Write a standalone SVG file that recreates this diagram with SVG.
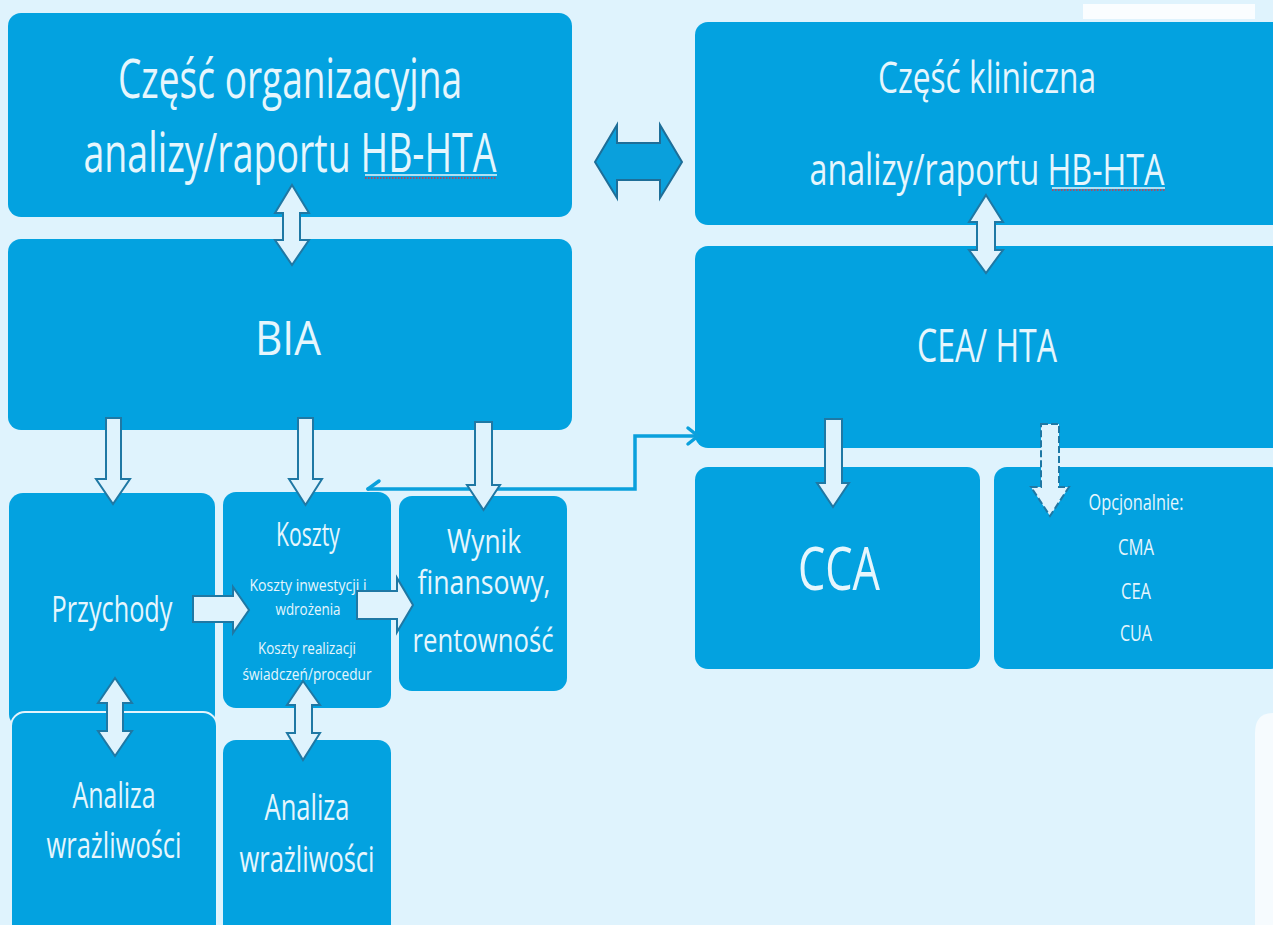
<svg xmlns="http://www.w3.org/2000/svg" width="1273" height="925" viewBox="0 0 1273 925">
<defs>
<style>
.node{fill:#03A2E0}
.t{fill:#E6F6FD;font-family:"Open Sans","Noto Sans",sans-serif;text-anchor:middle}
.ba{fill:#DFF3FD;stroke:#1F78A4;stroke-width:2;stroke-linejoin:miter}
.conn{fill:none;stroke:#0AA0DC;stroke-width:3.5;stroke-linecap:round;stroke-linejoin:miter}
.sq{fill:none;stroke:#D9333F;stroke-width:1.5;stroke-dasharray:1.5 1.5}
.ul{stroke:#E6F6FD;stroke-width:1.5}
</style>
</defs>
<rect x="0" y="0" width="1273" height="925" fill="#DFF3FD"/>
<rect x="1083" y="4" width="172" height="15" fill="#FAFDFF"/>
<path d="M1273 713 L1273 925 L1255 925 L1255 733 Q1255 713 1273 713 Z" fill="#F6FBFE"/>

<g id="node-organizacyjna">
<rect class="node" x="8" y="13" width="564" height="204" rx="13"/>
<text class="t" x="290" y="98" font-size="54" textLength="344" lengthAdjust="spacingAndGlyphs">Część organizacyjna</text>
<text class="t" x="290" y="172" font-size="54" textLength="413" lengthAdjust="spacingAndGlyphs">analizy/raportu HB-HTA</text>
<line class="ul" x1="365" y1="175" x2="497" y2="175"/>
<line class="sq" x1="365" y1="178" x2="497" y2="178"/>
</g>

<g id="node-kliniczna">
<rect class="node" x="695" y="22" width="590" height="203" rx="13"/>
<text class="t" x="987" y="93" font-size="44" textLength="218" lengthAdjust="spacingAndGlyphs">Część kliniczna</text>
<text class="t" x="987" y="185" font-size="44" textLength="355" lengthAdjust="spacingAndGlyphs">analizy/raportu HB-HTA</text>
<line class="ul" x1="1052" y1="188" x2="1165" y2="188"/>
<line class="sq" x1="1052" y1="190" x2="1165" y2="190"/>
</g>

<g id="node-bia">
<rect class="node" x="8" y="239" width="564" height="191" rx="13"/>
<text class="t" x="288" y="355" font-size="48" textLength="66" lengthAdjust="spacingAndGlyphs">BIA</text>
</g>

<g id="node-cea-hta">
<rect class="node" x="695" y="246" width="590" height="202" rx="13"/>
<text class="t" x="987" y="362" font-size="46" textLength="140" lengthAdjust="spacingAndGlyphs">CEA/ HTA</text>
</g>

<g id="node-przychody">
<rect class="node" x="9" y="493" width="206" height="235" rx="14"/>
<text class="t" x="112" y="622" font-size="36" textLength="121" lengthAdjust="spacingAndGlyphs">Przychody</text>
</g>

<g id="node-koszty">
<rect class="node" x="223" y="492" width="168" height="216" rx="13"/>
<text class="t" x="308" y="546" font-size="32" textLength="64" lengthAdjust="spacingAndGlyphs">Koszty</text>
<text class="t" x="308" y="591" font-size="17" textLength="117" lengthAdjust="spacingAndGlyphs">Koszty inwestycji  i</text>
<text class="t" x="308" y="615" font-size="17" textLength="65" lengthAdjust="spacingAndGlyphs">wdrożenia</text>
<text class="t" x="307" y="654" font-size="17" textLength="98" lengthAdjust="spacingAndGlyphs">Koszty realizacji</text>
<text class="t" x="307" y="680" font-size="17" textLength="129" lengthAdjust="spacingAndGlyphs">świadczeń/procedur</text>
</g>

<g id="node-wynik">
<rect class="node" x="399" y="496" width="168" height="195" rx="13"/>
<text class="t" x="484" y="553" font-size="33" textLength="74" lengthAdjust="spacingAndGlyphs">Wynik</text>
<text class="t" x="484" y="594" font-size="33" textLength="133" lengthAdjust="spacingAndGlyphs">finansowy,</text>
<text class="t" x="483" y="652" font-size="33" textLength="141" lengthAdjust="spacingAndGlyphs">rentowność</text>
</g>

<g id="node-cca">
<rect class="node" x="695" y="467" width="285" height="202" rx="13"/>
<text class="t" x="839" y="590" font-size="60" textLength="82" lengthAdjust="spacingAndGlyphs">CCA</text>
</g>

<g id="node-opcjonalnie">
<rect class="node" x="994" y="467" width="290" height="202" rx="13"/>
<text class="t" x="1136" y="510" font-size="21" textLength="95" lengthAdjust="spacingAndGlyphs">Opcjonalnie:</text>
<text class="t" x="1136" y="555" font-size="21" textLength="36" lengthAdjust="spacingAndGlyphs">CMA</text>
<text class="t" x="1136" y="599" font-size="21" textLength="30" lengthAdjust="spacingAndGlyphs">CEA</text>
<text class="t" x="1136" y="641" font-size="21" textLength="32" lengthAdjust="spacingAndGlyphs">CUA</text>
</g>

<g id="node-analiza-1">
<rect class="node" x="11" y="712" width="206" height="230" rx="14" stroke="#E3F4FC" stroke-width="2"/>
<text class="t" x="114" y="808" font-size="36" textLength="83" lengthAdjust="spacingAndGlyphs">Analiza</text>
<text class="t" x="114" y="858" font-size="36" textLength="135" lengthAdjust="spacingAndGlyphs">wrażliwości</text>
</g>

<g id="node-analiza-2">
<rect class="node" x="223" y="740" width="168" height="200" rx="13"/>
<text class="t" x="307" y="820" font-size="36" textLength="85" lengthAdjust="spacingAndGlyphs">Analiza</text>
<text class="t" x="307" y="872" font-size="36" textLength="135" lengthAdjust="spacingAndGlyphs">wrażliwości</text>
</g>

<g id="connectors">
<path class="conn" d="M368 489 H635 V436 H697"/>
<path class="conn" d="M368 489 L379 481"/>
<path class="conn" d="M688 428 L698 436 L688 444"/>
<polygon points="595,162 617,125 617,143 660,143 660,125 682,162 660,198 660,180 617,180 617,198" fill="#0AA0DC" stroke="#1E6E98" stroke-width="2"/>
<polygon class="ba" points="292,185 309,213 300,213 300,240 309,240 292,265 275,240 283,240 283,213 275,213"/>
<polygon class="ba" points="986,195 1003,222 995,222 995,250 1003,250 986,273 969,250 977,250 977,222 969,222"/>
<polygon class="ba" points="106,418 121,418 121,479 130,479 113,504 96,479 106,479"/>
<polygon class="ba" points="298,418 313,418 313,479 322,479 305.5,505 289,479 298,479"/>
<polygon class="ba" points="475,422 492,422 492,485 500,485 483.5,510 467,485 475,485"/>
<polygon class="ba" points="825,419 842,419 842,483 849,483 833,507 817,483 825,483"/>
<polygon class="ba" points="1041,424 1059,424 1059,487 1069,487 1050,516 1031,487 1041,487" stroke="#1A6A92" stroke-width="3" stroke-dasharray="7 3"/>
<polygon class="ba" points="193,596 233,596 233,587 249,610 233,633 233,622 193,622"/>
<polygon class="ba" points="357,591 397,591 397,578 413,605 397,632 397,619 357,619"/>
<polygon class="ba" points="115,678 132,703 123,703 123,731 132,731 115,756 98,731 107,731 107,703 98,703"/>
<polygon class="ba" points="303,681 320,705 312,705 312,733 320,733 303,760 287,733 295,733 295,705 287,705"/>
</g>
</svg>
